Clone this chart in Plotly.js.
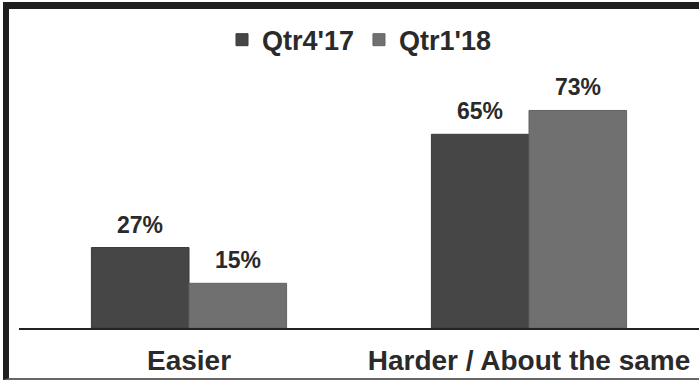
<!DOCTYPE html>
<html>
<head>
<meta charset="utf-8">
<script src="https://cdn.plot.ly/plotly-3.0.1.min.js"></script>
<style>
  html, body { margin: 0; padding: 0; background: #fff; }
  #chart { position: absolute; left: 0; top: 0; width: 699px; height: 383px; }
  #frame { position: absolute; left: 3px; top: 2px; width: 696px; height: 378px;
           box-sizing: border-box; border-top: 7px solid #1e1e1e; border-left: 6px solid #1e1e1e;
           border-bottom: 2px solid #666; pointer-events: none; }
</style>
</head>
<body>
<div id="chart"></div>
<div id="frame"></div>
<script>
const categories = ["Easier", "Harder / About the same"];
const seriesNames = ["Qtr4'17", "Qtr1'18"];
const qtr4_17 = [27, 65];
const qtr1_18 = [15, 73];

const font = "Liberation Sans, Arial, sans-serif";
const seriesValues = [qtr4_17, qtr1_18];
const colors = ["#464646", "#707070"];
const lineColors = ["#3a3a3a", "#636363"];

const traces = seriesValues.map((vals, i) => ({
  type: "bar", name: seriesNames[i], x: categories, y: vals,
  marker: { color: colors[i], line: { color: lineColors[i], width: 1 } }
}));

// value labels placed above each bar via data coordinates
const groupOffsetPx = 48.75;
const annotations = [];
seriesValues.forEach((vals, i) => {
  vals.forEach((v, j) => {
    annotations.push({
      x: categories[j], y: v, xref: "x", yref: "y",
      text: "<b>" + v + "%</b>", showarrow: false,
      xshift: (i === 0 ? -1 : 1) * groupOffsetPx, yshift: 8,
      yanchor: "bottom", xanchor: "center",
      font: { family: font, size: 23, color: "#2a2a2a" }
    });
  });
});

const layout = {
  width: 699, height: 383,
  margin: { l: 19, r: 0, t: 30, b: 55 },
  paper_bgcolor: "#fff", plot_bgcolor: "#fff",
  barmode: "group", bargap: 0.426, bargroupgap: 0,
  showlegend: true,
  legend: { orientation: "h", x: 0.5, xanchor: "center", y: 0.966, yanchor: "middle",
            font: { family: font, size: 27, color: "#2a2a2a", weight: "bold" },
            bgcolor: "rgba(0,0,0,0)" },
  annotations: annotations,
  xaxis: { showline: true, linecolor: "#222", linewidth: 2, ticks: "", showgrid: false,
           ticklabelstandoff: 6,
           tickfont: { family: font, size: 28, color: "#2a2a2a", weight: "bold" } },
  yaxis: { range: [0, 100], visible: false, showgrid: false, zeroline: false }
};

Plotly.newPlot("chart", traces, layout, { displayModeBar: false, staticPlot: true });
</script>
</body>
</html>
